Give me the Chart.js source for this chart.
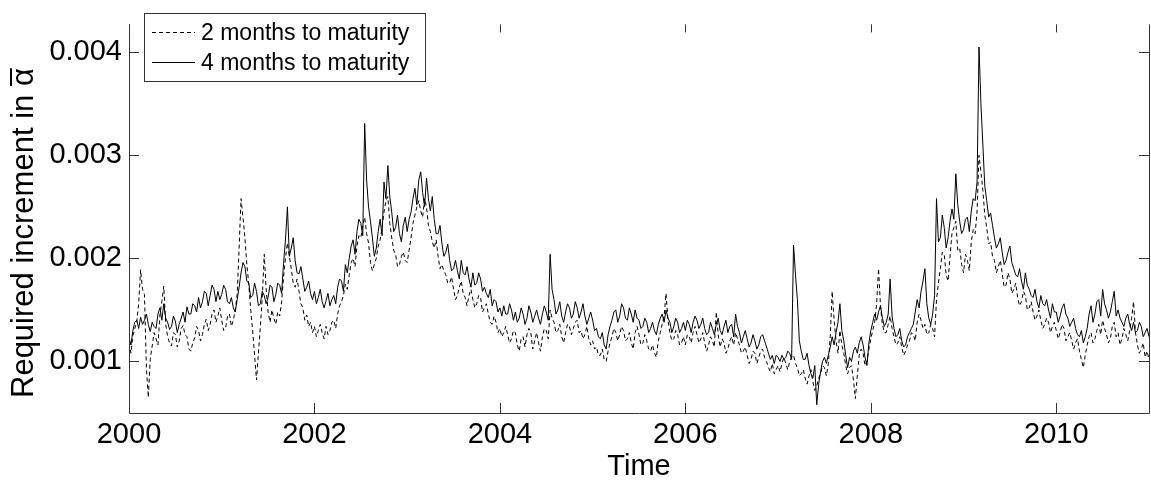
<!DOCTYPE html>
<html>
<head>
<meta charset="utf-8">
<title>Required increment</title>
<script src="https://cdn.jsdelivr.net/npm/chart.js@4/dist/chart.umd.min.js"></script>
<style>
    html, body { margin: 0; padding: 0; background: #fff; }
    #wrap { width: 1151px; height: 481px; }
</style>
</head>
<body>
<div id="wrap"><canvas id="chart" width="1151" height="481"></canvas></div>
<script>
// Semi-monthly samples, 2000.0 to 2011.0 (24 per year), values in units of 1e-4.
// The *Mid lists are the readings half way between two samples.
const startYear = 2000;
const samplesPerYear = 24;

const twoMonths = [
    11.8,12.5,13.8,18.9,16.5,6.5,11.5,12.2,14.5,17.3,12.4,11.5,12.6,12.0,13.5,12.4,11.0,12.3,13.0,12.6,14.1,13.6,15.0,14.4,
    14.0,13.2,14.6,14.0,16.5,25.8,22.0,17.5,13.0,8.2,13.4,20.4,14.8,15.0,13.6,14.4,18.2,21.5,19.0,17.2,16.8,15.2,14.5,13.8,
    13.4,13.0,12.8,13.4,13.0,14.0,14.6,15.8,17.5,18.4,20.0,21.2,22.0,24.0,21.5,18.8,20.0,21.8,24.5,26.0,22.0,20.4,19.4,20.6,
    19.6,22.0,24.2,25.6,24.0,25.0,22.6,21.0,20.2,19.4,18.4,17.6,17.0,16.4,17.8,16.2,16.4,16.0,15.6,16.2,15.2,14.6,13.6,13.8,
    13.2,12.8,12.6,12.2,12.8,11.0,12.4,12.6,12.8,12.0,11.8,12.4,13.0,15.0,13.8,13.0,12.4,12.8,13.4,13.2,14.0,13.0,12.6,12.2,
    12.0,11.4,10.6,10.2,11.0,12.4,12.8,12.6,13.0,12.2,11.8,12.8,12.6,11.8,12.0,11.0,10.8,12.0,13.6,16.6,12.8,12.2,12.6,11.8,
    11.6,12.4,12.8,12.6,12.2,11.8,11.6,12.0,14.8,11.4,11.8,11.2,12.4,12.8,11.6,11.0,10.6,10.2,10.8,10.4,11.2,10.0,9.0,8.8,
    9.6,9.8,9.8,10.0,10.6,9.4,8.8,8.4,8.6,8.0,7.6,8.8,9.4,9.8,16.8,12.0,13.0,10.8,8.8,9.6,6.4,10.6,10.8,10.0,
    12.2,13.8,19.0,13.6,12.8,14.4,12.4,11.8,11.4,11.0,12.0,12.6,13.8,14.0,13.6,12.8,13.2,16.0,19.0,20.4,17.8,22.4,23.6,21.0,
    18.6,19.8,21.6,22.4,30.0,26.6,23.0,21.6,19.8,19.2,18.6,17.4,18.0,17.0,16.2,15.8,16.4,15.2,14.8,14.4,14.0,13.6,13.8,13.4,
    13.0,12.8,13.2,12.4,12.0,11.8,11.0,9.4,11.6,12.8,12.2,13.6,14.0,12.6,12.2,13.8,12.8,12.2,12.6,13.0,15.8,11.6,11.2,10.4,10.2
];

const twoMonthsMid = [
    10.8,13.2,15.6,17.0,9.4,10.2,12.8,11.6,15.8,13.6,11.8,12.8,11.4,13.2,12.6,11.2,11.8,13.4,12.0,13.6,13.0,14.6,13.8,15.2,
    13.0,14.4,13.4,15.0,21.0,24.0,19.4,15.0,10.6,10.8,16.2,17.0,13.8,14.2,14.8,15.8,20.0,20.2,17.6,18.0,15.6,14.0,13.4,12.8,
    12.4,13.6,12.2,12.6,13.8,13.2,15.4,16.4,17.0,19.6,19.2,22.2,23.2,22.4,19.6,19.4,21.2,23.0,25.6,23.4,20.8,19.2,20.2,19.8,
    20.8,23.4,25.0,24.6,25.8,23.2,21.6,21.8,19.0,18.8,17.6,18.2,16.0,17.2,16.6,15.4,17.0,15.2,16.4,14.8,15.6,13.8,14.4,12.8,
    12.4,13.4,11.8,13.0,11.6,12.2,11.4,13.2,11.2,12.8,11.0,13.2,12.2,14.2,12.8,13.6,11.8,13.6,12.6,13.8,12.8,12.2,13.4,11.6,
    11.2,10.6,11.2,10.0,11.8,13.2,12.0,13.4,12.0,12.8,11.2,13.4,11.6,12.6,11.2,11.6,10.4,12.8,14.4,14.0,12.0,13.0,11.6,12.4,
    12.6,11.8,13.4,11.8,12.8,11.0,12.4,11.4,12.6,12.2,10.8,12.0,11.6,12.2,10.8,11.4,9.8,11.0,9.8,11.0,10.4,9.4,9.8,9.2,
    9.0,10.4,9.2,10.4,9.8,8.6,9.2,7.8,9.2,7.2,8.4,9.6,8.6,12.4,14.0,10.8,11.6,9.6,9.4,8.2,8.6,11.2,9.6,11.2,
    13.0,15.6,15.4,12.8,13.6,13.2,11.6,12.4,10.6,11.6,12.8,12.0,14.6,13.2,12.6,13.6,12.4,17.6,20.6,18.4,20.2,23.0,20.8,19.4,
    20.4,18.8,22.8,24.6,28.4,24.2,21.4,20.2,18.6,19.8,17.2,18.6,16.6,17.6,15.4,16.8,15.0,15.8,14.0,15.0,13.2,14.2,12.8,13.8,
    12.2,13.6,12.0,12.8,11.2,12.2,10.2,10.6,12.4,11.8,13.0,12.6,13.2,11.8,13.4,12.4,11.6,13.2,12.0,14.2,12.8,10.8,11.8,11.0
];

const fourMonths = [
    12.3,13.0,14.0,14.3,14.0,13.6,13.8,13.2,15.2,15.6,13.8,13.4,13.9,13.6,14.8,15.3,14.6,15.4,16.2,15.8,16.6,16.4,17.0,16.8,
    16.5,17.0,15.6,15.2,16.0,18.6,19.2,17.6,16.4,16.8,15.6,16.4,16.2,17.2,16.5,17.4,19.5,25.0,21.0,19.8,18.5,18.0,17.2,16.6,
    16.8,16.2,15.8,15.9,15.4,16.4,17.2,17.8,19.4,20.0,21.8,22.6,23.4,33.1,25.0,22.0,21.0,23.8,27.4,29.0,24.5,23.0,22.4,23.2,
    22.6,24.5,26.8,27.6,26.4,27.8,24.6,23.8,22.4,21.4,20.6,19.8,19.0,18.8,19.8,18.4,18.0,18.6,17.6,18.0,17.2,16.2,15.4,15.8,
    15.2,15.4,14.6,15.0,14.8,14.2,14.6,14.2,14.8,14.4,14.2,14.6,14.8,20.4,16.0,15.0,14.4,14.8,15.2,14.6,15.2,14.8,14.4,14.2,
    14.0,13.2,12.2,11.6,12.6,14.0,15.0,14.4,15.2,14.0,14.6,15.0,14.0,13.4,13.8,13.2,13.0,13.6,14.6,15.0,13.8,13.4,13.8,13.2,
    13.0,13.6,13.8,14.0,13.6,13.2,12.8,13.2,13.6,13.0,13.4,12.8,13.6,14.6,12.8,12.4,12.2,11.8,12.0,11.6,12.6,11.4,10.2,9.8,
    10.4,10.6,10.4,10.8,21.3,16.0,11.0,10.2,9.6,8.4,5.8,9.0,10.4,10.6,12.4,12.8,15.6,12.0,9.4,10.0,11.4,11.8,11.6,9.6,
    13.0,14.6,14.8,14.2,13.8,18.0,13.2,12.6,12.0,11.6,12.8,13.6,16.0,16.8,19.0,14.2,14.6,25.8,22.0,23.0,22.0,24.8,28.2,23.6,
    22.8,24.0,24.6,25.6,40.5,31.0,25.6,24.4,22.0,21.4,20.6,19.8,21.2,19.0,18.2,17.8,18.6,17.0,16.2,15.8,16.4,15.4,15.0,15.6,
    14.8,14.4,15.6,14.2,13.8,13.2,12.4,11.8,13.2,15.4,14.6,16.0,17.0,15.0,14.8,16.8,15.0,13.8,14.2,13.6,13.8,13.0,13.4,12.8,12.4
];

const fourMonthsMid = [
    11.6,13.8,13.2,13.6,14.6,12.9,13.4,14.6,14.0,14.2,13.1,14.4,12.8,14.2,13.8,14.6,15.6,14.8,15.2,16.8,15.4,17.4,15.8,16.0,
    17.4,15.8,16.2,14.8,17.2,19.6,17.8,16.2,17.6,15.4,16.8,15.6,17.4,15.8,17.6,16.6,21.8,20.2,22.0,18.6,19.2,16.8,17.8,16.0,
    15.6,17.0,15.2,16.6,16.0,15.6,18.0,16.8,18.6,21.2,20.4,23.8,22.2,27.6,23.6,20.2,22.6,22.2,25.8,26.0,22.6,24.2,21.6,24.0,
    23.8,25.8,25.2,28.4,25.0,25.8,26.0,22.4,23.2,20.2,21.4,18.8,19.8,18.0,18.6,19.2,17.2,17.4,18.6,16.8,16.6,17.0,16.0,14.8,
    14.4,14.6,15.6,14.0,13.8,15.2,13.6,15.4,13.8,15.0,13.6,15.4,14.0,17.0,14.6,15.8,13.8,15.6,14.2,15.8,14.2,15.6,13.6,14.8,
    13.0,12.4,12.8,11.2,13.4,14.8,13.8,15.6,14.2,15.2,13.8,14.2,13.2,14.2,12.8,13.8,12.6,14.2,13.8,14.2,12.8,14.2,12.8,13.8,
    14.0,12.8,14.4,13.2,14.2,12.6,13.8,12.6,14.2,12.6,14.0,13.4,12.4,13.4,11.8,13.0,11.4,12.6,11.2,12.4,12.0,10.8,10.6,10.6,
    10.0,10.2,11.0,10.2,18.4,12.0,10.2,10.8,8.8,9.6,7.8,10.0,9.8,11.4,11.6,13.8,13.0,10.6,10.4,11.0,10.8,12.4,10.4,11.8,
    13.8,14.0,15.4,13.4,14.6,14.4,12.4,13.2,11.4,12.4,13.2,14.8,15.2,17.8,15.6,13.6,16.4,21.6,24.2,21.0,23.6,23.8,25.2,22.4,
    23.8,22.6,25.8,27.4,35.0,27.0,24.0,23.2,21.0,22.0,19.4,20.6,19.6,18.4,19.0,17.0,17.4,16.4,17.0,15.2,15.6,16.0,14.2,14.8,
    13.8,15.2,14.6,13.4,14.2,12.6,13.0,12.4,14.6,13.8,15.8,14.4,15.6,14.2,15.8,14.4,14.2,13.4,14.6,13.0,12.8,13.8,12.4,13.2
];

const seriesLabels = ['2 months to maturity', '4 months to maturity'];
const xTicks = [2000, 2002, 2004, 2006, 2008, 2010];
const yTicks = [0.001, 0.002, 0.003, 0.004];

const FONT = '"Liberation Sans", Arial, sans-serif';
const AXIS_COLOR = '#333333';

// Merge samples and half-way readings into {x, y} points
function toPoints(values, mids) {
    const pts = [];
    values.forEach((v, i) => {
        const t = startYear + i / samplesPerYear;
        pts.push({ x: t, y: v * 1e-4 });
        if (i < mids.length) {
            pts.push({ x: t + 0.5 / samplesPerYear, y: mids[i] * 1e-4 });
        }
    });
    return pts;
}

// Open box around the plot with inward ticks on all four sides (MATLAB look)
const boxPlugin = {
    id: 'box',
    afterDraw(chart) {
        const { ctx, chartArea: a, scales } = chart;
        const tick = 10;
        ctx.save();
        ctx.strokeStyle = AXIS_COLOR;
        ctx.lineWidth = 1;
        ctx.beginPath();
        ctx.moveTo(a.left + 0.5, a.top);
        ctx.lineTo(a.left + 0.5, a.bottom + 0.5);
        ctx.lineTo(a.right + 0.5, a.bottom + 0.5);
        ctx.lineTo(a.right + 0.5, a.top);
        xTicks.forEach(t => {
            const x = Math.round(scales.x.getPixelForValue(t)) + 0.5;
            ctx.moveTo(x, a.bottom);
            ctx.lineTo(x, a.bottom - tick);
            ctx.moveTo(x, a.top);
            ctx.lineTo(x, a.top + tick - 2);
        });
        yTicks.forEach(t => {
            const y = Math.round(scales.y.getPixelForValue(t)) + 0.5;
            ctx.moveTo(a.left, y);
            ctx.lineTo(a.left + tick, y);
            ctx.moveTo(a.right, y);
            ctx.lineTo(a.right - tick, y);
        });
        ctx.stroke();
        ctx.restore();
    }
};

// Legend box in the upper left corner of the plot
const legendPlugin = {
    id: 'boxLegend',
    afterDraw(chart) {
        const { ctx } = chart;
        const bx = 144, by = 13, bw = 281, bh = 68;
        ctx.save();
        ctx.fillStyle = '#fff';
        ctx.fillRect(bx, by, bw, bh);
        ctx.strokeStyle = AXIS_COLOR;
        ctx.lineWidth = 1;
        ctx.strokeRect(bx + 0.5, by + 0.5, bw, bh);
        ctx.font = '23px ' + FONT;
        ctx.fillStyle = '#000';
        ctx.textBaseline = 'middle';
        chart.data.datasets.forEach((ds, i) => {
            const y = 32.5 + i * 30;
            ctx.strokeStyle = '#000';
            ctx.setLineDash(ds.borderDash || []);
            ctx.beginPath();
            ctx.moveTo(152, y);
            ctx.lineTo(195, y);
            ctx.stroke();
            ctx.setLineDash([]);
            ctx.fillText(ds.label, 201, y + 1);
        });
        ctx.restore();
    }
};

// Rotated y title with an overlined alpha at the end
const yTitlePlugin = {
    id: 'yTitle',
    afterDraw(chart) {
        const { ctx } = chart;
        ctx.save();
        ctx.translate(33, 398);
        ctx.rotate(-Math.PI / 2);
        ctx.font = '31px ' + FONT;
        ctx.fillStyle = '#000';
        ctx.textBaseline = 'alphabetic';
        const head = 'Required increment in ';
        ctx.fillText(head, 0, 0);
        const w = ctx.measureText(head).width;
        ctx.fillText('\u03b1', w, 0);
        const aw = ctx.measureText('\u03b1').width;
        ctx.strokeStyle = '#000';
        ctx.lineWidth = 2;
        ctx.beginPath();
        ctx.moveTo(w, -22);
        ctx.lineTo(w + aw, -22);
        ctx.stroke();
        ctx.restore();
    }
};

new Chart(document.getElementById('chart'), {
    type: 'line',
    data: {
        datasets: [
            {
                label: seriesLabels[0],
                data: toPoints(twoMonths, twoMonthsMid),
                borderColor: '#000',
                borderWidth: 1,
                borderDash: [4, 3],
                pointRadius: 0,
                tension: 0
            },
            {
                label: seriesLabels[1],
                data: toPoints(fourMonths, fourMonthsMid),
                borderColor: '#000',
                borderWidth: 1,
                pointRadius: 0,
                tension: 0
            }
        ]
    },
    options: {
        responsive: false,
        animation: false,
        devicePixelRatio: 1,
        layout: { padding: { top: 0, right: 2, bottom: 0, left: 0 } },
        plugins: {
            legend: { display: false },
            tooltip: { enabled: false }
        },
        scales: {
            x: {
                type: 'linear',
                min: 2000,
                max: 2011,
                afterBuildTicks: s => { s.ticks = xTicks.map(v => ({ value: v })); },
                afterFit: s => { s.height = 68; },
                grid: { display: false, drawTicks: false },
                border: { display: false },
                ticks: {
                    padding: 5,
                    color: '#000',
                    font: { family: FONT, size: 29 },
                    maxRotation: 0,
                    callback: v => String(v)
                },
                title: {
                    display: true,
                    text: 'Time',
                    color: '#000',
                    font: { family: FONT, size: 29, lineHeight: 1 },
                    padding: { top: 0, bottom: 0 }
                }
            },
            y: {
                min: 0.0005,
                max: 0.00427,
                afterBuildTicks: s => { s.ticks = yTicks.map(v => ({ value: v })); },
                afterFit: s => { s.width = 129; },
                grid: { display: false, drawTicks: false },
                border: { display: false },
                ticks: {
                    padding: 7,
                    color: '#000',
                    font: { family: FONT, size: 29 },
                    callback: v => v.toFixed(3)
                }
            }
        }
    },
    plugins: [boxPlugin, legendPlugin, yTitlePlugin]
});
</script>
</body>
</html>
